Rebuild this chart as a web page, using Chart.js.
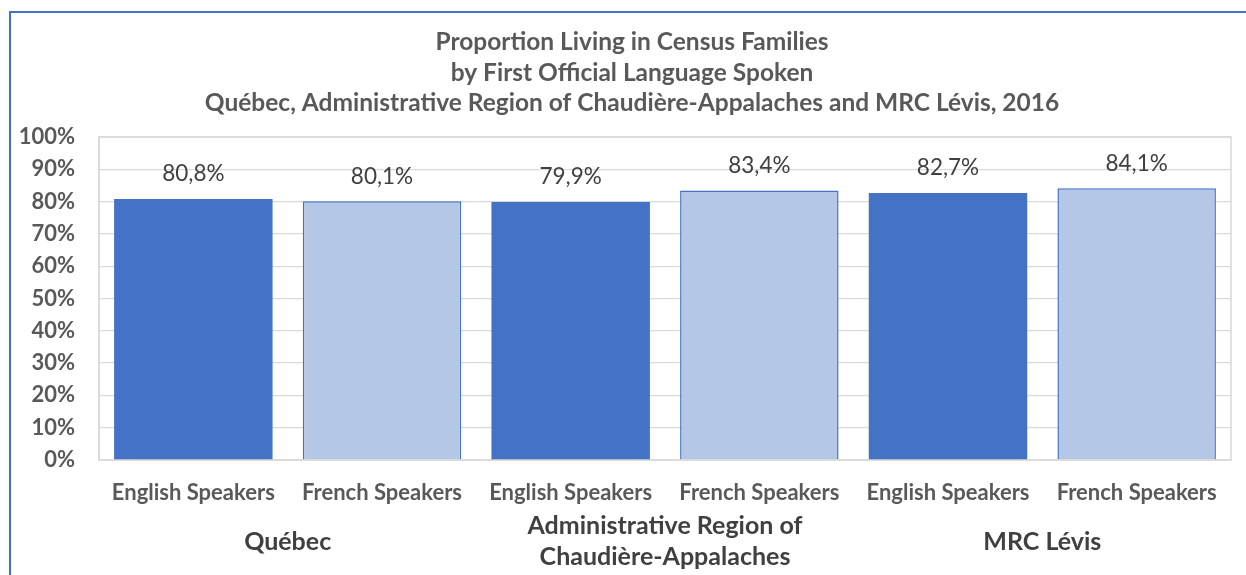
<!DOCTYPE html>
<html>
<head>
<meta charset="utf-8">
<script src="https://cdn.jsdelivr.net/npm/chart.js@4.4.0/dist/chart.umd.min.js"></script>
<style>
  html, body { margin: 0; padding: 0; background: #fff; }
  #wrap { position: relative; width: 1246px; height: 575px; }
  #frame { position: absolute; left: 9px; top: 11px; right: 0; bottom: 0;
           border-left: 2px solid #4472C4; border-top: 2px solid #4472C4; pointer-events: none; }
</style>
</head>
<body>
<div id="wrap">
  <canvas id="grafico" width="1246" height="575"></canvas>
  <div id="frame"></div>
</div>
<script>
// dados
const categories = ['English Speakers', 'French Speakers', 'English Speakers', 'French Speakers', 'English Speakers', 'French Speakers'];
const groups = ['Québec', ['Administrative Region of', 'Chaudière-Appalaches'], 'MRC Lévis'];
const values = [80.8, 80.1, 79.9, 83.4, 82.7, 84.1];
const yTicks = [0, 10, 20, 30, 40, 50, 60, 70, 80, 90, 100];
const titleLines = ['Proportion Living in Census Families', 'by First Official Language Spoken', 'Québec, Administrative Region of Chaudière-Appalaches and MRC Lévis, 2016'];

const dark = '#4472C4';
const light = '#B4C7E7';
const fontName = 'Lato';

// rotulos em cima das barras
const rotulos = {
  id: 'rotulos',
  afterDatasetsDraw(chart) {
    const ctx = chart.ctx;
    const meta = chart.getDatasetMeta(0);
    ctx.save();
    ctx.font = '22.5px ' + fontName;
    ctx.fillStyle = '#404040';
    ctx.textAlign = 'center';
    ctx.textBaseline = 'middle';
    meta.data.forEach((bar, i) => {
      const txt = values[i].toFixed(1).replace('.', ',') + '%';
      ctx.fillText(txt, bar.x, bar.y - 25);
    });
    ctx.restore();
  }
};

// borda da area do grafico
const borda = {
  id: 'borda',
  beforeDatasetsDraw(chart) {
    const a = chart.chartArea;
    const ctx = chart.ctx;
    ctx.save();
    ctx.strokeStyle = '#D9D9D9';
    ctx.lineWidth = 1.5;
    ctx.strokeRect(a.left, a.top, a.right - a.left, a.bottom - a.top);
    ctx.restore();
  }
};

new Chart(document.getElementById('grafico'), {
  type: 'bar',
  data: {
    labels: categories,
    datasets: [{
      data: values,
      backgroundColor: values.map((v, i) => i % 2 === 0 ? dark : light),
      borderColor: dark,
      borderWidth: values.map((v, i) => i % 2 === 0 ? 0 : 1.5),
      barPercentage: 0.84,
      categoryPercentage: 1
    }]
  },
  options: {
    responsive: false,
    animation: false,
    layout: { padding: { left: 18, right: 0, top: 0, bottom: 0 } },
    plugins: {
      legend: { display: false },
      tooltip: { enabled: false },
      title: {
        display: true,
        text: titleLines,
        color: '#595959',
        font: { family: fontName, size: 24.5, weight: 'bold', lineHeight: 1.245 },
        padding: { top: 27, bottom: 18.5 }
      }
    },
    scales: {
      y: {
        min: 0, max: 100,
        afterBuildTicks(scale) { scale.ticks = yTicks.map(v => ({ value: v })); },
        afterFit(scale) { scale.width = 81; },
        grid: { color: '#D9D9D9', lineWidth: 1.3, drawTicks: false },
        border: { display: true, color: '#D9D9D9', width: 1.5 },
        ticks: {
          padding: 24,
          color: '#595959',
          font: { family: fontName, size: 22, weight: 'bold' },
          callback: v => v + '%'
        }
      },
      // espaco vazio a direita
      direita: {
        type: 'linear',
        position: 'right',
        afterFit(scale) { scale.width = 15; },
        grid: { display: false, drawTicks: false },
        border: { display: false },
        ticks: { display: false }
      },
      x: {
        afterFit(scale) { scale.height = 48; },
        grid: { display: false },
        border: { display: true, color: '#D9D9D9', width: 1.5 },
        ticks: {
          padding: 12,
          maxRotation: 0,
          autoSkip: false,
          color: '#595959',
          font: { family: fontName, size: 22, weight: 'bold', lineHeight: 1.2 }
        }
      },
      grupos: {
        type: 'category',
        position: 'bottom',
        labels: groups,
        offset: true,
        afterFit(scale) { scale.height = 67; },
        grid: { display: false, drawTicks: false },
        border: { display: false },
        ticks: {
          padding: 18,
          maxRotation: 0,
          autoSkip: false,
          crossAlign: 'center',
          color: '#404040',
          font: { family: fontName, size: 25, weight: 'bold', lineHeight: 1.24 }
        }
      }
    }
  },
  plugins: [borda, rotulos]
});
</script>
</body>
</html>
